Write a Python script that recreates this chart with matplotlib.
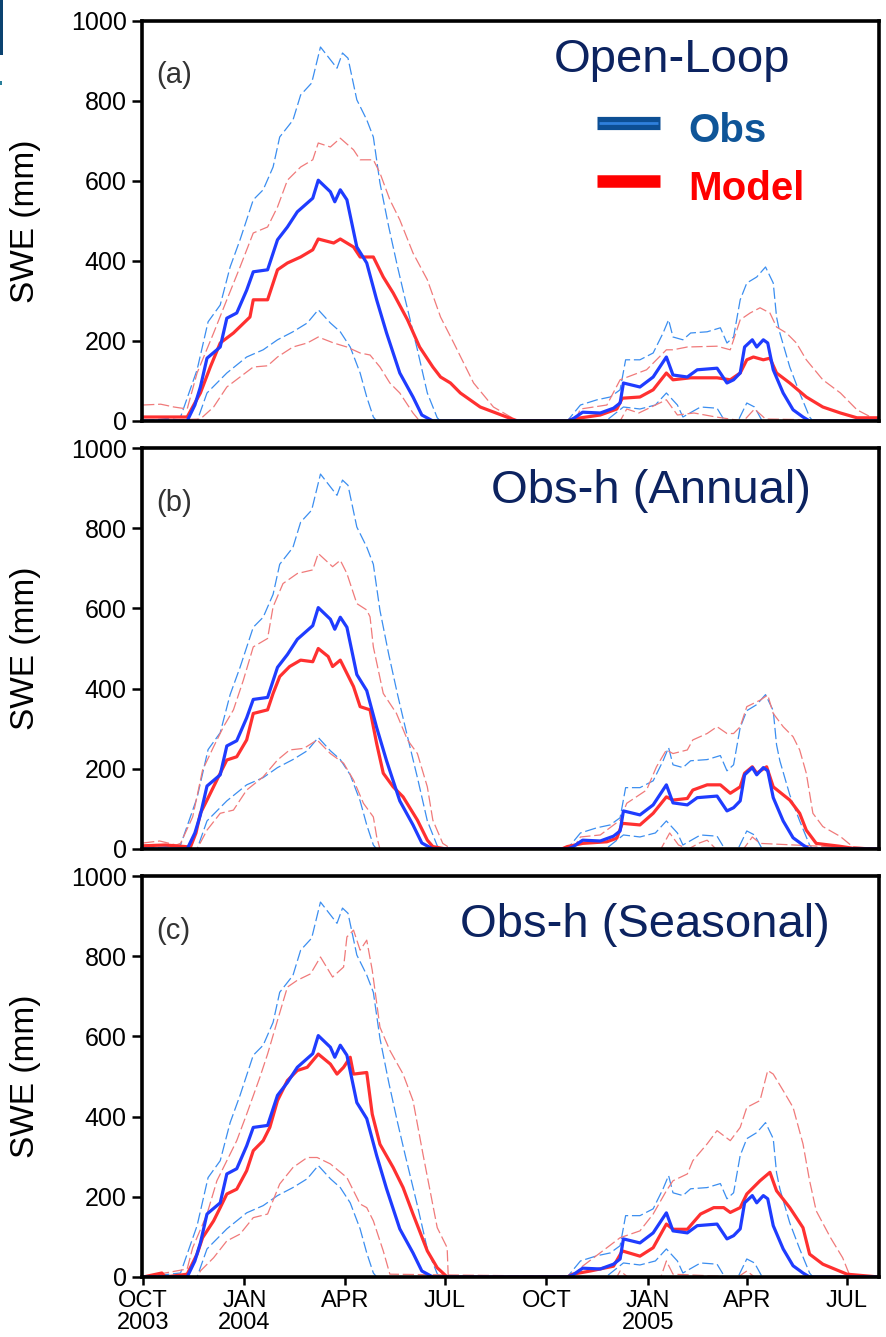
import matplotlib
matplotlib.use("Agg")
import matplotlib.pyplot as plt
import numpy as np
from matplotlib.patches import Rectangle

plt.rcParams['font.family'] = ['Liberation Sans', 'DejaVu Sans']

START = np.datetime64("2003-10-01")

# --- observations (identical in all three panels), days since 1 Oct 2003 ---
obs_mean_days = [0, 40, 47, 52, 58, 70, 76, 85, 94, 100, 113, 122, 131, 140, 154, 159, 170, 174,
                 179, 185, 194, 203, 212, 221, 233, 245, 253, 263, 385, 390, 399, 415, 427, 433,
                 436, 451, 463, 475, 481, 494, 503, 521, 530, 536, 542, 546, 553, 557, 563, 567,
                 572, 581, 590, 599, 605, 668]
obs_mean_swe = [0, 0, 40, 85, 157, 185, 257, 270, 327, 373, 378, 453, 485, 523, 557, 602, 573, 548,
                578, 553, 435, 395, 303, 220, 120, 60, 15, 0, 0, 5, 22, 20, 32, 45,
                95, 85, 110, 160, 115, 110, 128, 132, 95, 103, 120, 185, 203, 185, 203, 195,
                128, 70, 28, 10, 0, 0]

obs_hi_days = [0, 34, 49, 59, 70, 79, 88, 100, 109, 118, 124, 136, 143, 153, 161, 176, 181, 186,
               194, 203, 209, 215, 223, 231, 238, 249, 258, 267, 270, 385, 397, 412, 424, 433,
               438, 451, 463, 472, 477, 481, 490, 497, 512, 524, 530, 536, 542, 548, 557, 565,
               572, 575, 578, 587, 596, 605, 608, 668]
obs_hi_swe = [0, 10, 128, 248, 290, 385, 453, 553, 578, 635, 710, 752, 815, 845, 935, 882, 920, 907,
              803, 753, 710, 595, 485, 385, 303, 178, 70, 8, 0, 0, 40, 53, 60, 78,
              153, 153, 170, 220, 253, 210, 203, 220, 223, 233, 195, 210, 303, 345, 360, 385,
              345, 260, 220, 135, 70, 10, 0, 0]

obs_lo_days = [0, 49, 58, 76, 94, 109, 122, 136, 149, 159, 170, 179, 188, 197, 203, 209, 212,
               420, 436, 451, 465, 475, 485, 490, 506, 521, 528, 540, 548, 555, 562, 668]
obs_lo_swe = [0, 0, 70, 120, 160, 178, 203, 223, 245, 278, 245, 223, 185, 120, 60, 10, 0,
              0, 35, 30, 40, 70, 40, 10, 35, 32, 0, 0, 45, 35, 0, 0]

# --- model, panel (a) Open-Loop ---
ol_mean_days = [0, 40, 52, 61, 70, 82, 97, 100, 113, 122, 131, 143, 154, 159, 173, 179, 191, 197,
                209, 218, 227, 240, 251, 263, 270, 279, 288, 306, 330, 340, 385, 390, 415, 430,
                435, 451, 463, 475, 481, 497, 521, 533, 542, 548, 554, 563, 569, 575, 587, 602,
                617, 633, 648, 668]
ol_mean_swe = [10, 10, 70, 135, 195, 220, 260, 303, 303, 378, 395, 410, 428, 455, 445, 455, 435, 410,
               410, 360, 320, 253, 185, 135, 110, 95, 70, 35, 10, 0, 0, 5, 15, 30,
               57, 60, 78, 120, 103, 108, 108, 103, 120, 153, 160, 153, 157, 120, 95, 60,
               35, 20, 8, 8]

ol_hi_days = [0, 16, 28, 40, 49, 64, 76, 88, 100, 113, 122, 131, 143, 154, 159, 170, 179, 191,
              197, 209, 215, 224, 233, 245, 258, 270, 282, 300, 318, 340, 392, 397, 421, 433,
              457, 475, 481, 494, 521, 533, 542, 551, 560, 569, 575, 584, 593, 602, 617, 633,
              648, 664, 668]
ol_hi_swe = [40, 42, 35, 30, 120, 220, 303, 385, 470, 485, 535, 602, 635, 653, 695, 685, 707, 678,
             653, 653, 620, 553, 503, 420, 353, 260, 195, 95, 35, 0, 0, 30, 40, 103,
             128, 178, 178, 185, 187, 178, 253, 270, 283, 270, 235, 220, 195, 153, 103, 70,
             28, 5, 5]

ol_lo_days = [0, 52, 64, 76, 88, 100, 113, 122, 136, 149, 159, 173, 185, 197, 206, 215, 224, 233,
              245, 251, 433, 439, 450, 475, 485, 500, 520, 545, 555, 565, 668]
ol_lo_swe = [0, 5, 35, 85, 110, 135, 138, 160, 185, 195, 210, 195, 185, 170, 165, 135, 95, 70,
             20, 0, 0, 30, 20, 53, 15, 20, 10, 0, 30, 5, 0]

# --- model, panel (b) Obs-h (Annual) ---
ann_mean_days = [0, 20, 43, 48, 52, 58, 70, 76, 85, 94, 100, 113, 118, 124, 133, 143, 154, 159,
                 168, 172, 179, 191, 197, 206, 212, 218, 227, 236, 249, 258, 263, 275, 380, 385,
                 399, 421, 430, 435, 451, 463, 475, 481, 494, 499, 512, 524, 533, 542, 546, 553,
                 557, 566, 572, 587, 596, 602, 611, 632, 644, 668]
ann_mean_swe = [8, 10, 5, 40, 89, 122, 189, 222, 230, 272, 338, 347, 388, 430, 455, 471, 467, 500,
                480, 455, 471, 405, 355, 347, 263, 189, 155, 130, 72, 22, 6, 0, 0, 6,
                14, 18, 27, 64, 60, 89, 130, 122, 126, 147, 160, 160, 139, 155, 189, 205,
                189, 205, 155, 122, 89, 47, 14, 7, 2, 0]

ann_hi_days = [0, 15, 30, 34, 45, 54, 64, 73, 82, 91, 100, 113, 118, 127, 140, 154, 159, 172,
               179, 185, 194, 203, 206, 209, 218, 230, 240, 249, 258, 263, 272, 280, 390, 397,
               415, 433, 439, 457, 466, 475, 481, 494, 499, 512, 521, 530, 536, 542, 548, 560,
               567, 572, 581, 590, 596, 602, 608, 617, 633, 644, 668]
ann_hi_swe = [15, 20, 10, 14, 80, 197, 255, 305, 347, 421, 504, 525, 604, 662, 687, 696, 737, 704,
              720, 687, 612, 596, 579, 504, 388, 338, 272, 238, 155, 72, 14, 0, 0, 30,
              35, 72, 114, 147, 205, 247, 238, 247, 272, 288, 305, 288, 288, 305, 355, 371,
              384, 338, 305, 280, 247, 189, 89, 56, 31, 6, 0]

ann_lo_days = [0, 49, 58, 70, 82, 94, 109, 122, 133, 146, 158, 170, 182, 191, 200, 209, 212, 215,
               470, 478, 486, 495, 505, 512, 520, 545, 553, 560, 668]
ann_lo_swe = [0, 0, 47, 89, 97, 147, 180, 222, 247, 251, 272, 238, 214, 172, 114, 80, 31, 0,
              0, 40, 10, 0, 15, 22, 0, 0, 30, 14, 0]

# --- model, panel (c) Obs-h (Seasonal) ---
sea_mean_days = [0, 17, 20, 40, 49, 54, 64, 70, 76, 85, 94, 100, 109, 115, 122, 131, 140, 149,
                 159, 170, 176, 182, 188, 191, 203, 208, 215, 227, 236, 245, 258, 267, 276, 385,
                 390, 406, 427, 435, 451, 463, 475, 481, 494, 506, 518, 527, 533, 542, 548, 560,
                 569, 575, 587, 599, 605, 617, 639, 668]
sea_mean_swe = [0, 10, 0, 7, 57, 98, 140, 173, 207, 219, 265, 315, 340, 373, 440, 490, 515, 523,
                556, 531, 506, 523, 548, 506, 510, 406, 331, 273, 223, 157, 65, 23, 0, 0,
                7, 15, 27, 65, 52, 73, 132, 119, 119, 157, 173, 173, 161, 173, 207, 240,
                261, 215, 173, 123, 57, 32, 7, 0]

sea_hi_days = [0, 40, 45, 58, 67, 76, 85, 94, 106, 113, 122, 131, 140, 152, 161, 172, 182, 185,
               191, 197, 203, 208, 215, 224, 236, 245, 254, 267, 276, 277, 390, 397, 433, 451,
               463, 475, 481, 494, 499, 512, 521, 533, 542, 548, 560, 567, 572, 581, 590, 599,
               605, 611, 624, 635, 641, 668]
sea_hi_swe = [0, 20, 73, 157, 240, 290, 340, 406, 498, 556, 640, 723, 740, 756, 798, 748, 773, 848,
              865, 815, 840, 765, 623, 565, 506, 440, 307, 123, 73, 0, 0, 23, 98, 115,
              157, 215, 240, 257, 290, 332, 365, 340, 373, 423, 440, 515, 506, 465, 423, 332,
              240, 165, 98, 48, 7, 0]

sea_lo_days = [0, 50, 52, 64, 76, 88, 100, 113, 124, 136, 149, 158, 170, 185, 197, 203, 209, 218,
               224, 430, 433, 440, 470, 475, 481, 540, 548, 555, 668]
sea_lo_swe = [0, 0, 15, 48, 90, 107, 148, 157, 232, 273, 298, 298, 282, 248, 182, 173, 140, 65,
              7, 0, 15, 0, 0, 40, 7, 0, 15, 0, 0]

panel_tags = ["(a)", "(b)", "(c)"]
panel_titles = ["Open-Loop", "Obs-h (Annual)", "Obs-h (Seasonal)"]

tick_dates = ["2003-10-01", "2004-01-01", "2004-04-01", "2004-07-01",
              "2004-10-01", "2005-01-01", "2005-04-01", "2005-07-01"]
tick_labels = ["OCT\n2003", "JAN\n2004", "APR", "JUL", "OCT", "JAN\n2005", "APR", "JUL"]


def to_dates(days):
    return START + np.array(days, dtype="timedelta64[D]")


BLUE = "#1f3cff"
RED = "#ff3030"
BLUE_D = "#3b8ef0"
RED_D = "#f07a7a"
NAVY = "#0c2360"

model_sets = [
    (ol_mean_days, ol_mean_swe, ol_hi_days, ol_hi_swe, ol_lo_days, ol_lo_swe),
    (ann_mean_days, ann_mean_swe, ann_hi_days, ann_hi_swe, ann_lo_days, ann_lo_swe),
    (sea_mean_days, sea_mean_swe, sea_hi_days, sea_hi_swe, sea_lo_days, sea_lo_swe),
]

fig = plt.figure(figsize=(8.86, 13.37), dpi=100)
W, H = 886, 1337
# panel boxes in pixels: (left, top, right, bottom)
boxes = [(142, 21, 879, 421), (142, 448, 879, 849), (142, 876, 879, 1277)]
title_pos = [(0.719, 0.8725), (0.691, 0.863), (0.6825, 0.8475)]

for i, (l, t, r, b) in enumerate(boxes):
    ax = fig.add_axes([l / W, 1 - b / H, (r - l) / W, (b - t) / H])
    md, mv, hd, hv, ld, lv = model_sets[i]

    dash = dict(lw=0.9, dashes=(9, 3))
    ax.plot(to_dates(obs_hi_days), obs_hi_swe, color=BLUE_D, **dash)
    ax.plot(to_dates(obs_lo_days), obs_lo_swe, color=BLUE_D, **dash)
    ax.plot(to_dates(hd), hv, color=RED_D, **dash)
    ax.plot(to_dates(ld), lv, color=RED_D, **dash)
    ax.plot(to_dates(md), mv, color=RED, lw=2.3)
    ax.plot(to_dates(obs_mean_days), obs_mean_swe, color=BLUE, lw=2.3)

    ax.set_xlim(np.datetime64("2003-09-30"), np.datetime64("2005-07-30"))
    ax.set_ylim(0, 1000)
    ax.set_yticks(range(0, 1001, 200))
    ax.tick_params(axis="y", direction="out", length=7, width=1.8, pad=4, labelsize=18)
    ax.set_ylabel("SWE (mm)", fontsize=24)
    ax.yaxis.set_label_coords((41 - l) / (r - l), 0.5)

    if i == 2:
        ax.set_xticks(to_dates([(np.datetime64(d) - START).astype(int) for d in tick_dates]))
        ax.set_xticklabels(tick_labels)
        ax.tick_params(axis="x", direction="out", length=5.5, width=1.8, pad=4, labelsize=17)
        for lbl in ax.get_xticklabels():
            lbl.set_linespacing(0.98)
    else:
        ax.set_xticks([])

    for sp in ax.spines.values():
        sp.set_linewidth(2.6)
        sp.set_zorder(5)

    ax.text(0.02, 0.864, panel_tags[i], transform=ax.transAxes, fontsize=21,
            color="#333333", ha="left", va="center")

    ax.text(title_pos[i][0], title_pos[i][1], panel_titles[i], transform=ax.transAxes,
            fontsize=34, color=NAVY, ha="center", va="baseline")

    if i == 0:
        # legend swatches
        ax.plot([0.617, 0.703], [0.745, 0.745], transform=ax.transAxes,
                color="#0d4f94", lw=9.5, solid_capstyle="butt", clip_on=False)
        ax.plot([0.62, 0.70], [0.745, 0.745], transform=ax.transAxes,
                color="#2f80dc", lw=2.0, solid_capstyle="butt", clip_on=False)
        ax.plot([0.617, 0.703], [0.60, 0.60], transform=ax.transAxes,
                color="#ff0000", lw=9.0, solid_capstyle="butt", clip_on=False)
        ax.text(0.741, 0.6975, "Obs", transform=ax.transAxes, fontsize=29,
                fontweight="bold", color="#0f5598", ha="left", va="baseline")
        ax.text(0.741, 0.5525, "Model", transform=ax.transAxes, fontsize=29,
                fontweight="bold", color="#ff0000", ha="left", va="baseline")

# slide-edge remnants at the top left
fig.add_artist(Rectangle((0, 1 - 55 / H), 3 / W, 55 / H, transform=fig.transFigure,
                         color="#0b4270", lw=0))
fig.add_artist(Rectangle((0, 1 - 85 / H), 2 / W, 4 / H, transform=fig.transFigure,
                         color="#2a7f9a", lw=0))

fig.savefig("out.png", dpi=100, facecolor="white")
